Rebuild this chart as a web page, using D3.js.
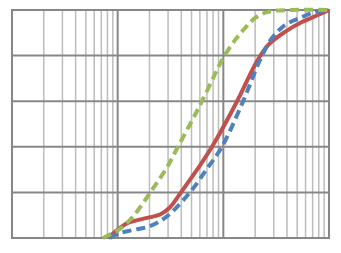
<!DOCTYPE html>
<html>
<head>
<meta charset="utf-8">
<script src="https://cdn.jsdelivr.net/npm/d3@7"></script>
<style>
body{margin:0;background:#fff;}
</style>
</head>
<body>
<svg id="chart"></svg>
<script>
// grain size (log x) vs percent passing
var redX = [0.081,0.105,0.125,0.190,0.252,0.313,0.397,0.575,0.781,1.35,2.05,2.65,3.83,5.55,7.87,10];
var redY = [0,4.4,6.6,8.8,10.3,13.5,20,30.5,40,60,77,84.6,90.4,94.7,97.8,100];

var blueX = [0.0845,0.105,0.140,0.202,0.293,0.483,0.716,0.970,1.54,2.22,2.89,3.83,5.55,7.37,10];
var blueY = [0,2.2,3.5,5.2,9.5,20,31,40,60,78,87.7,93.4,96.9,99.1,100];

var greenX = [0.0726,0.105,0.140,0.211,0.293,0.372,0.505,0.628,0.817,0.970,1.30,1.60,2.0,2.65,4.47,10];
var greenY = [0,4,9.5,21,31,40,51.5,60,71,78,87,92,96.5,99.2,100,100];

var xDomain = [0.01,10];
var yTicks = [0,20,40,60,80,100];

var W = 341, H = 253;
var m = {left:12, top:10, right:12, bottom:15};

var svg = d3.select("#chart").attr("width",W).attr("height",H);

var x = d3.scaleLog().domain(xDomain).range([m.left, W-m.right]);
var y = d3.scaleLinear().domain([0,100]).range([H-m.bottom, m.top]);

// minor vertical grid
var minor = [];
[0.01,0.1,1].forEach(function(d){
	for(var k=2;k<=9;k++) minor.push(d*k);
});
svg.append("g").selectAll("line").data(minor).enter().append("line")
	.attr("x1",function(d){return x(d);}).attr("x2",function(d){return x(d);})
	.attr("y1",y(0)).attr("y2",y(100))
	.attr("stroke","#bcbcbc").attr("stroke-width",1.5);

// major grid
var major = [0.01,0.1,1,10];
svg.append("g").selectAll("line").data(major).enter().append("line")
	.attr("x1",function(d){return x(d);}).attr("x2",function(d){return x(d);})
	.attr("y1",y(0)).attr("y2",y(100))
	.attr("stroke","#878787").attr("stroke-width",2);
svg.append("g").selectAll("line").data(yTicks).enter().append("line")
	.attr("x1",x(xDomain[0])-1).attr("x2",x(xDomain[1])+1)
	.attr("y1",function(d){return y(d);}).attr("y2",function(d){return y(d);})
	.attr("stroke","#878787").attr("stroke-width",2);

function addSeries(xs,ys,color,dash){
	var pts = xs.map(function(v,i){return [v,ys[i]];});
	var line = d3.line()
		.x(function(d){return x(d[0]);})
		.y(function(d){return y(d[1]);})
		.curve(d3.curveCatmullRom.alpha(0.5));
	var p = svg.append("path").attr("d",line(pts))
		.attr("fill","none").attr("stroke",color)
		.attr("stroke-width",4);
	if(dash) p.attr("stroke-dasharray",dash);
	return p;
}
addSeries(redX,redY,"#c0504d",null);
addSeries(blueX,blueY,"#4f81bd","9,5");
addSeries(greenX,greenY,"#9bbb59","9,5");
</script>
</body>
</html>
